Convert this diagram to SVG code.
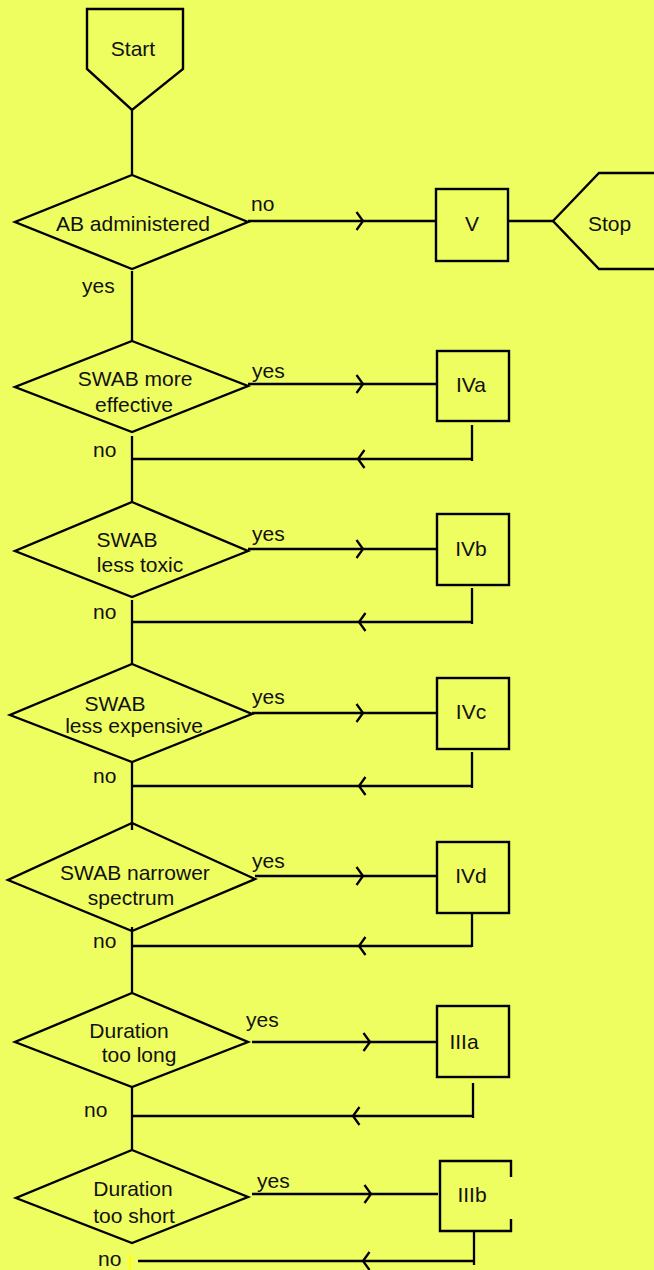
<svg xmlns="http://www.w3.org/2000/svg" width="654" height="1270" viewBox="0 0 654 1270">
<defs>
<style>
.s{fill:none;stroke:#000;stroke-width:2.4;stroke-linejoin:miter}
.c{fill:none;stroke:#000;stroke-width:2.3}
.t{font-family:"Liberation Sans",Arial,sans-serif;font-size:21px;fill:#111}
.m{text-anchor:middle}
</style>
<marker id="chev" markerUnits="userSpaceOnUse" markerWidth="14" markerHeight="22" refX="7" refY="11" orient="auto" overflow="visible">
<path d="M0.5,2 L7,11 L0.5,20" fill="none" stroke="#000" stroke-width="2.3"/>
</marker>
</defs>
<rect x="0" y="0" width="654" height="1270" fill="#EEFD60"/>

<g id="connectors">
<path class="c" d="M132,108 V175"/>
<path class="c" d="M132,271 V341"/>
<path class="c" d="M132,436 V502"/>
<path class="c" d="M132,600 V664"/>
<path class="c" d="M132,762 V830"/>
<path class="c" d="M132,927 V993"/>
<path class="c" d="M132,1087 V1150"/>

<path class="c" marker-mid="url(#chev)" d="M248,221 L363,221 L436,221"/>
<path class="c" d="M508,221 L553,221"/>
<path class="c" marker-mid="url(#chev)" d="M248,384 L363,384 L437,384"/>
<path class="c" marker-mid="url(#chev)" d="M248,549 L363,549 L437,549"/>
<path class="c" marker-mid="url(#chev)" d="M252,713 L363,713 L437,713"/>
<path class="c" marker-mid="url(#chev)" d="M255,876 L363,876 L437,876"/>
<path class="c" marker-mid="url(#chev)" d="M252,1042 L370,1042 L437,1042"/>
<path class="c" marker-mid="url(#chev)" d="M252,1194 L371,1194 L438,1194"/>

<path class="c" d="M472,425 V461"/>
<path class="c" marker-mid="url(#chev)" d="M472,459 L358,459 L132,459"/>
<path class="c" d="M472,588 V624"/>
<path class="c" marker-mid="url(#chev)" d="M472,622 L359,622 L132,622"/>
<path class="c" d="M472,752 V788"/>
<path class="c" marker-mid="url(#chev)" d="M472,786 L359,786 L132,786"/>
<path class="c" d="M472,914 V947"/>
<path class="c" marker-mid="url(#chev)" d="M472,946 L359,946 L132,946"/>
<path class="c" d="M473,1083 V1118"/>
<path class="c" marker-mid="url(#chev)" d="M473,1116 L353,1116 L132,1116"/>
<path class="c" d="M474,1231 V1265"/>
<path class="c" marker-mid="url(#chev)" d="M474,1261 L363,1261 L138,1261"/>
<path d="M130,1255 V1270" stroke="#FFFF00" stroke-width="2"/>

<text class="t" x="251" y="211">no</text>
<text class="t" x="82" y="293">yes</text>
<text class="t" x="252" y="378">yes</text>
<text class="t" x="93" y="457">no</text>
<text class="t" x="252" y="541">yes</text>
<text class="t" x="93" y="619">no</text>
<text class="t" x="252" y="704">yes</text>
<text class="t" x="93" y="783">no</text>
<text class="t" x="252" y="868">yes</text>
<text class="t" x="93" y="948">no</text>
<text class="t" x="246" y="1027">yes</text>
<text class="t" x="84" y="1117">no</text>
<text class="t" x="257" y="1188">yes</text>
<text class="t" x="98" y="1266">no</text>
</g>

<g id="start">
<polygon class="s" points="87,9 183,9 183,69 132,110 87,69"/>
<text class="t m" x="133" y="56">Start</text>
</g>

<g id="d1">
<polygon class="s" points="132,175 248,222 132,269 15,222"/>
<text class="t m" x="133" y="231">AB administered</text>
</g>

<g id="boxV">
<rect class="s" x="436" y="189" width="72" height="72"/>
<text class="t m" x="472" y="231">V</text>
</g>

<g id="stop">
<polygon class="s" points="553,221 599,173 662,173 662,269 599,269"/>
<text class="t" x="588" y="231">Stop</text>
</g>

<g id="d2">
<polygon class="s" points="132,341 248,386 132,432 15,387"/>
<text class="t m" x="135" y="386">SWAB more</text>
<text class="t m" x="134" y="412">effective</text>
</g>
<g id="boxIVa">
<rect class="s" x="437" y="351" width="72" height="70"/>
<text class="t m" x="471" y="392">IVa</text>
</g>

<g id="d3">
<polygon class="s" points="132,502 248,551 132,597 15,551"/>
<text class="t m" x="127" y="547">SWAB</text>
<text class="t m" x="140" y="572">less toxic</text>
</g>
<g id="boxIVb">
<rect class="s" x="437" y="514" width="72" height="71"/>
<text class="t m" x="471" y="556">IVb</text>
</g>

<g id="d4">
<polygon class="s" points="132,664 252,714 132,762 10,715"/>
<text class="t m" x="115" y="711">SWAB</text>
<text class="t m" x="134" y="733">less expensive</text>
</g>
<g id="boxIVc">
<rect class="s" x="437" y="678" width="72" height="71"/>
<text class="t m" x="471" y="719">IVc</text>
</g>

<g id="d5">
<polygon class="s" points="132,823 255,879 132,931 8,880"/>
<text class="t m" x="135" y="880">SWAB narrower</text>
<text class="t m" x="131" y="905">spectrum</text>
</g>
<g id="boxIVd">
<rect class="s" x="437" y="842" width="72" height="71"/>
<text class="t m" x="471" y="883">IVd</text>
</g>

<g id="d6">
<polygon class="s" points="132,993 248,1042 132,1087 15,1042"/>
<text class="t m" x="129" y="1038">Duration</text>
<text class="t m" x="139" y="1062">too long</text>
</g>
<g id="boxIIIa">
<rect class="s" x="437" y="1006" width="72" height="71"/>
<text class="t m" x="464" y="1049">IIIa</text>
</g>

<g id="d7">
<polygon class="s" points="132,1150 248,1197 132,1243 16,1198"/>
<text class="t m" x="133" y="1196">Duration</text>
<text class="t m" x="134" y="1223">too short</text>
</g>
<g id="boxIIIb">
<path class="s" d="M511,1177 V1161 H440 V1231 H511 V1219"/>
<text class="t m" x="472" y="1202">IIIb</text>
</g>
</svg>
